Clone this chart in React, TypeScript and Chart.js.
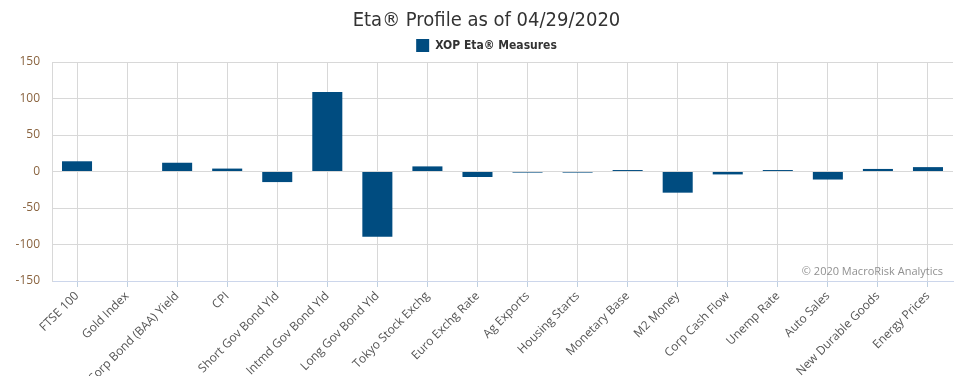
import React, { useEffect, useRef } from "react";
import { Chart, registerables } from "chart.js";

Chart.register(...registerables);

const categories = [
  "FTSE 100",
  "Gold Index",
  "Corp Bond (BAA) Yield",
  "CPI",
  "Short Gov Bond Yld",
  "Intmd Gov Bond Yld",
  "Long Gov Bond Yld",
  "Tokyo Stock Exchg",
  "Euro Exchg Rate",
  "Ag Exports",
  "Housing Starts",
  "Monetary Base",
  "M2 Money",
  "Corp Cash Flow",
  "Unemp Rate",
  "Auto Sales",
  "New Durable Goods",
  "Energy Prices",
];

const etaValues = [14, 0, 12, 4, -14.5, 109, -89.5, 7, -7.5, -1.5, -1.5, 2, -29, -4, 2, -11, 3.5, 6];

const yTicks = [-150, -100, -50, 0, 50, 100, 150];

const seriesName = "XOP Eta\u00ae Measures";
const titleText = "Eta\u00ae Profile as of 04/29/2020";
const creditText = "\u00a9 2020 MacroRisk Analytics";

const creditPlugin = {
  id: "credit",
  afterDatasetsDraw(chart: any) {
    const { ctx, chartArea } = chart;
    ctx.save();
    ctx.font = "11px 'Open Sans', 'DejaVu Sans', sans-serif";
    ctx.fillStyle = "#909090";
    ctx.textAlign = "right";
    ctx.textBaseline = "bottom";
    ctx.fillText(creditText, chartArea.right - 10, chartArea.bottom - 4);
    ctx.restore();
  },
};

export default function App() {
  const ref = useRef<HTMLCanvasElement>(null);
  useEffect(() => {
    document.body.style.margin = "0";
    const chart = new Chart(ref.current!, {
      type: "bar",
      data: {
        labels: categories,
        datasets: [
          {
            label: seriesName,
            data: etaValues,
            backgroundColor: "#004c80",
            borderWidth: 0,
            barPercentage: 0.6,
            categoryPercentage: 1,
          },
        ],
      },
      options: {
        animation: false,
        responsive: false,
        maintainAspectRatio: false,
        layout: { padding: { left: 0, right: 0, top: 9, bottom: 0 } },
        plugins: {
          title: {
            display: true,
            text: titleText,
            color: "#333333",
            font: { size: 20, family: "'DejaVu Sans Condensed', 'Liberation Sans Narrow', sans-serif", weight: "normal" },
            padding: { top: 0, bottom: 3 },
          },
          legend: {
            display: true,
            labels: {
              color: "#333333",
              boxWidth: 13,
              boxHeight: 13,
              padding: 3,
              font: { size: 12, weight: "bold", family: "'DejaVu Sans Condensed', 'Liberation Sans Narrow', sans-serif" },
            },
          },
          tooltip: { enabled: false },
        },
        scales: {
          x: {
            offset: true,
            grid: {
              offset: false,
              color: "#d8d8d8",
              tickColor: "#c0d0e0",
              tickLength: 6,
              drawTicks: true,
            },
            border: { color: "#ccd6eb", width: 1 },
            ticks: {
              autoSkip: false,
              maxRotation: 45,
              minRotation: 45,
              color: "#555555",
              font: { size: 12, family: "'Open Sans', 'DejaVu Sans', sans-serif" },
              padding: 2,
            },
            afterFit: (s: any) => {
              s.height = 95;
            },
          },
          y: {
            min: -150,
            max: 150,
            afterBuildTicks: (s: any) => {
              s.ticks = yTicks.map((v) => ({ value: v }));
            },
            grid: { color: "#d8d8d8", drawTicks: false },
            border: { color: "#d8d8d8", width: 1 },
            ticks: {
              color: "#8a6440",
              font: { size: 12, family: "'Open Sans', 'DejaVu Sans', sans-serif" },
              padding: 12,
            },
            afterFit: (s: any) => {
              s.width = 52;
            },
          },
          yRight: {
            position: "right",
            min: -150,
            max: 150,
            grid: { display: false, drawTicks: false },
            border: { display: false },
            ticks: { display: false },
            afterFit: (s: any) => {
              s.width = 20;
            },
          },
        },
      },
      plugins: [creditPlugin],
    } as any);
    return () => chart.destroy();
  }, []);
  return (
    <div style={{ width: 973, height: 376 }}>
      <canvas ref={ref} width={973} height={376} style={{ display: "block" }} />
    </div>
  );
}
